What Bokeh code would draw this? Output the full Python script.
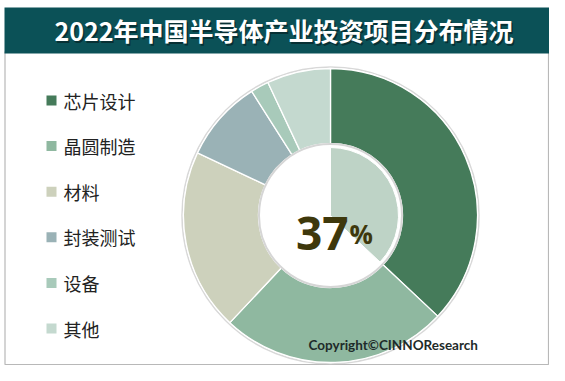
import numpy as np
from bokeh.plotting import figure
from bokeh.models import Range1d, ColumnDataSource
from bokeh.core.properties import value
from bokeh.embed import file_html
from bokeh.resources import INLINE

# ---- data ----
title_text = "2022年中国半导体产业投资项目分布情况"
categories = ["芯片设计", "晶圆制造", "材料", "封装测试", "设备", "其他"]
shares = [37, 25, 20, 9, 2, 7]
colors = ["#457B5A", "#8FB8A0", "#CDD1BC", "#9AB2B6", "#A8CABA", "#C4D9CF"]
highlight_share = 37
highlight_label = "37"
copyright_text = "Copyright©CINNOResearch"

W, H = 549, 365
# data coords: x = image x, y = 381 - image y
p = figure(width=W, height=H, output_backend="svg", toolbar_location=None,
           x_range=Range1d(0, 549), y_range=Range1d(16, 381),
           min_border=0, match_aspect=False)
p.axis.visible = False
p.grid.visible = False
p.outline_line_color = None
p.background_fill_color = "white"
p.border_fill_color = "white"

# frame
p.line([4.5, 4.5, 548, 548], [330, 17, 17, 330], line_color="#B8B8B8", line_width=1.2)
# title bar
p.quad(left=4, right=549, top=374, bottom=328, fill_color="#0B5157", line_color=None)
p.text([285], [350], text=[title_text], text_color="#06282B", text_align="center",
       text_baseline="middle", text_font=value("Noto Sans CJK SC"), text_font_style="bold",
       text_font_size="25px", alpha=0.8)
p.text([283.5], [351.5], text=[title_text], text_color="white", text_align="center",
       text_baseline="middle", text_font=value("Noto Sans CJK SC"), text_font_style="bold",
       text_font_size="25px")

# donut
cx, cy = 330, 166
R_out, R_in, R_pie = 147, 72, 68
vals = np.array(shares, dtype=float)
frac = vals / vals.sum()
cum = np.concatenate([[0], np.cumsum(frac)]) * 2 * np.pi
start = np.pi / 2 - cum[:-1]
end = np.pi / 2 - cum[1:]
src = ColumnDataSource(dict(start=start, end=end, color=colors))
p.circle([cx], [cy], radius=R_out + 1.5, fill_color=None, line_color="#C8C8C8", line_width=1.5, line_alpha=0.7)
p.annular_wedge(x=cx, y=cy, inner_radius=R_in, outer_radius=R_out,
                start_angle="start", end_angle="end", direction="clock",
                fill_color="color", line_color="white", line_width=1.3, source=src)
p.circle([cx], [cy], radius=R_in - 0.5, fill_color=None, line_color="#D6D6D6", line_width=2)

hs = highlight_share / 100 * 2 * np.pi
p.wedge(x=cx, y=cy, radius=R_pie, start_angle=np.pi / 2, end_angle=np.pi / 2 - hs,
        direction="clock", fill_color="#BED3C6", line_color="white", line_width=1)

# center label
p.text([348], [148], text=[highlight_label], text_color="#3E380C", text_align="right",
       text_baseline="alphabetic", text_font=value("Open Sans"), text_font_style="bold",
       text_font_size="46px")
p.text([349], [148], text=["%"], text_color="#3E380C", text_align="left",
       text_baseline="alphabetic", text_font=value("Open Sans"), text_font_style="bold",
       text_font_size="26px")

# legend
ly = [381 - (100 + i * 45.6) for i in range(len(categories))]
p.scatter([51] * len(categories), ly, marker="square", size=10, fill_color=colors, line_color=None)
p.text([63] * len(categories), ly, text=categories, text_color="#222222", text_align="left",
       text_baseline="middle", text_font=value("Noto Sans CJK SC"), text_font_size="18px")

# copyright
p.text([308], [37], text=[copyright_text], text_color="#1E2B2A", text_align="left",
       text_baseline="middle", text_font=value("Lato"), text_font_style="bold",
       text_font_size="13.5px")

open("out.html", "w").write(file_html(p, INLINE))
